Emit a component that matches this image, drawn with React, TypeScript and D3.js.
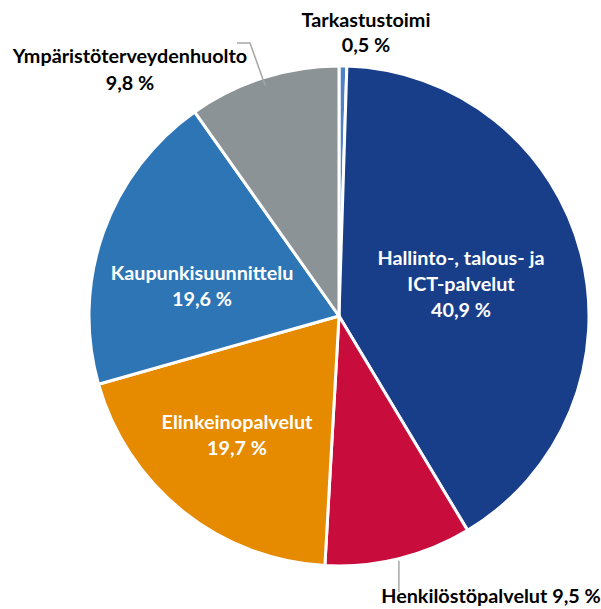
import React, { useEffect, useRef } from 'react'
import * as d3 from 'd3'

const categories = [
  'Tarkastustoimi',
  'Hallinto-, talous- ja ICT-palvelut',
  'Henkilöstöpalvelut',
  'Elinkeinopalvelut',
  'Kaupunkisuunnittelu',
  'Ympäristöterveydenhuolto',
]
const shares = [0.5, 40.9, 9.5, 19.7, 19.6, 9.8]
const valueLabels = ['0,5 %', '40,9 %', '9,5 %', '19,7 %', '19,6 %', '9,8 %']
const colors = ['#4f81c4', '#183e8a', '#c80c3b', '#e68a00', '#2e75b6', '#8c9396']

const W = 601
const H = 609

export default function App() {
  const svgRef = useRef<SVGSVGElement>(null)

  useEffect(() => {
    const svg = d3.select(svgRef.current)
    svg.selectAll('*').remove()

    const cx = 339
    const cy = 316
    const r = 250
    const font = 'Lato, "Open Sans", sans-serif'
    const fs = '19.8px'

    const data = categories.map((c, i) => ({ name: c, value: shares[i], label: valueLabels[i], color: colors[i] }))
    const pie = d3.pie<any>().value(d => d.value).sort(null)
    const arcs = pie(data)
    const arc = d3.arc<any>().innerRadius(0).outerRadius(r)

    const g = svg.append('g').attr('transform', `translate(${cx},${cy})`)

    g.selectAll('path')
      .data(arcs)
      .enter().append('path')
      .attr('d', arc)
      .attr('fill', d => d.data.color)
      .attr('stroke', '#fff')
      .attr('stroke-width', 3)
      .attr('stroke-linejoin', 'round')

    // inside labels: offset of text block centre from pie centre
    const inside: Record<number, { dx: number; dy: number; lines: string[] }> = {
      1: { dx: 122, dy: -31, lines: ['Hallinto-, talous- ja', 'ICT-palvelut'] },
      3: { dx: -102, dy: 120, lines: ['Elinkeinopalvelut'] },
      4: { dx: -137, dy: -29, lines: ['Kaupunkisuunnittelu'] },
    }
    const lh = 26

    Object.entries(inside).forEach(([k, v]) => {
      const a = arcs[+k]
      const lines = [...v.lines, a.data.label]
      const t = g.append('text')
        .attr('text-anchor', 'middle')
        .attr('fill', '#fff')
        .style('font-family', font)
        .style('font-weight', 700)
        .style('font-size', fs)
      lines.forEach((l, i) => {
        t.append('tspan')
          .attr('x', v.dx)
          .attr('y', v.dy + (i - (lines.length - 1) / 2) * lh + 6)
          .text(l)
      })
    })

    // outside labels
    const outer = svg.append('g')
      .style('font-family', font)
      .style('font-weight', 700)
      .style('font-size', fs)
      .attr('fill', '#000')
      .attr('text-anchor', 'middle')

    const addLines = (x: number, y: number, lines: string[], gap = 26) => {
      const t = outer.append('text')
      lines.forEach((l, i) => t.append('tspan').attr('x', x).attr('y', y + i * gap).text(l))
    }

    addLines(366, 27, [categories[0], valueLabels[0]], 25)
    addLines(130, 63, [categories[5], valueLabels[5]], 27)
    addLines(491, 603, [`${categories[2]} ${valueLabels[2]}`])

    // leader lines
    const grayA = arcs[5]
    const midA = (grayA.startAngle + grayA.endAngle) / 2
    const pA = [Math.sin(midA) * r, -Math.cos(midA) * r]
    const henk = arcs[2]
    const midH = (henk.startAngle + henk.endAngle) / 2
    const pH = [Math.sin(midH) * r, -Math.cos(midH) * r]

    const line = d3.line()
    svg.append('path')
      .attr('d', line([[237, 43], [250, 43], [cx + pA[0] + 2, cy + pA[1] + 8]]))
      .attr('fill', 'none')
      .attr('stroke', '#a6a6a6')
      .attr('stroke-width', 1.5)
    svg.append('path')
      .attr('d', line([[cx + pH[0], cy + pH[1] + 2], [cx + pH[0], 592]]))
      .attr('fill', 'none')
      .attr('stroke', '#a6a6a6')
      .attr('stroke-width', 1.5)
  }, [])

  return (
    <svg ref={svgRef} width={W} height={H} style={{ display: 'block', position: 'absolute', left: 0, top: 0, background: '#fff' }} />
  )
}
